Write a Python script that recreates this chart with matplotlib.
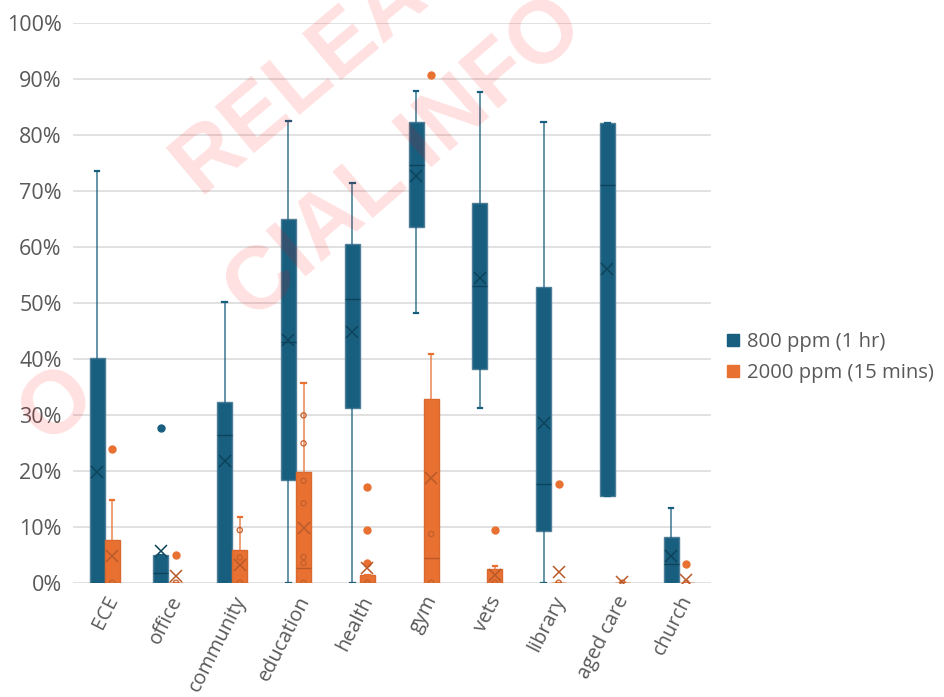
import matplotlib.pyplot as plt
import numpy as np
from matplotlib.lines import Line2D

categories = ['ECE', 'office', 'community', 'education', 'health',
              'gym', 'vets', 'library', 'aged care', 'church']

# 800 ppm (1 hr), values in %
hr_q1 = [0, 0, 0, 18.3, 31.3, 63.6, 38.1, 9.2, 15.4, 0]
hr_med = [0, 1.7, 26.4, 43.0, 50.7, 74.7, 53.0, 17.7, 71.1, 3.3]
hr_q3 = [40.2, 4.9, 32.3, 64.9, 60.6, 82.4, 67.9, 52.8, 82.1, 8.2]
hr_lo = [0, 0, 0, 0, 0, 48.1, 31.3, 0, 15.4, 0]
hr_hi = [73.5, 4.9, 50.2, 82.5, 71.4, 87.8, 87.7, 82.3, 82.1, 13.3]
hr_mean = [19.8, 5.6, 21.8, 43.3, 44.8, 72.7, 54.5, 28.6, 56.1, 4.8]
hr_out = [[], [27.6], [], [], [], [], [], [], [], []]

# 2000 ppm (15 mins), values in %
mins_q1 = [0, 0, 0, 0, 0, 0, 0, 0, 0, 0]
mins_med = [0, 0, 0, 2.6, 0, 4.4, 0, 0, 0, 0]
mins_q3 = [7.7, 0, 5.9, 19.8, 1.4, 32.9, 2.4, 0, 0, 0]
mins_lo = [0, 0, 0, 0, 0, 0, 0, 0, 0, 0]
mins_hi = [14.8, 0, 11.7, 35.7, 1.4, 40.9, 3.0, 0, 0, 0]
mins_mean = [4.8, 1.2, 3.2, 9.7, 2.6, 18.7, 1.4, 1.9, 0.2, 0.4]
mins_out = [[23.9], [5.0], [], [], [17.1, 9.4, 3.6], [90.7], [9.4], [17.7], [], [3.4]]
mins_pts = [[0], [0], [9.4, 4.5, 0], [29.9, 24.9, 18.2, 14.2, 4.6, 3.5, 0],
            [0], [8.7, 0], [0], [0], [0], [0]]

blue = '#175e7f'
orange = '#e87132'
grey = '#595959'

plt.rcParams['font.family'] = ['Open Sans', 'DejaVu Sans']

fig = plt.figure(figsize=(9.45, 6.97), dpi=100)
ax = fig.add_axes([0.077, 0.164, 0.675, 0.803])

x = np.arange(len(categories))
off = 0.118
w = 0.235


def stats(q1, med, q3, lo, hi, mean, out):
    return [dict(q1=a, med=b, q3=c, whislo=d, whishi=e, mean=f, fliers=g)
            for a, b, c, d, e, f, g in zip(q1, med, q3, lo, hi, mean, out)]


def draw(st, pos, col, edge, dark):
    ax.bxp(st, positions=pos, widths=w, patch_artist=True, showmeans=True,
           capwidths=0.07,
           boxprops=dict(facecolor=col, edgecolor=edge, linewidth=1),
           medianprops=dict(color=dark, linewidth=1),
           whiskerprops=dict(color=col, linewidth=1.1, alpha=0.85),
           capprops=dict(color=col, linewidth=1.6),
           meanprops=dict(marker='x', markeredgecolor=dark, markersize=8,
                          markeredgewidth=1.1),
           flierprops=dict(marker='o', markerfacecolor=col, markeredgecolor=col,
                           markersize=5))


draw(stats(hr_q1, hr_med, hr_q3, hr_lo, hr_hi, hr_mean, hr_out), x - off,
     blue, '#4f7f98', '#0e435c')
draw(stats(mins_q1, mins_med, mins_q3, mins_lo, mins_hi, mins_mean, mins_out), x + off,
     orange, '#d9692e', '#b9592a')

for i, pts in enumerate(mins_pts):
    ax.scatter([x[i] + off] * len(pts), pts, s=14, facecolors='none',
               edgecolors='#c45f2b', linewidths=0.9, zorder=4)

ax.set_xlim(-0.5, len(categories) - 0.5)
ax.set_ylim(0, 100)
ax.set_yticks(range(0, 101, 10))
ax.set_yticklabels([f'{v}%' for v in range(0, 101, 10)])
ax.set_xticks(x)
ax.set_xticklabels(categories, rotation=63, ha='right', rotation_mode='anchor')
ax.tick_params(axis='y', length=0, labelsize=15.5, labelcolor=grey, pad=8)
ax.tick_params(axis='x', length=0, labelsize=14.3, labelcolor=grey, pad=7)
ax.grid(axis='y', color='#d9d9d9', linewidth=1.1)
ax.set_axisbelow(True)
for spine in ax.spines.values():
    spine.set_visible(False)

handles = [Line2D([], [], marker='s', linestyle='none', color=blue, markersize=9),
           Line2D([], [], marker='s', linestyle='none', color=orange, markersize=9)]
fig.legend(handles, ['800 ppm (1 hr)', '2000 ppm (15 mins)'], loc='center left',
           bbox_to_anchor=(0.749, 0.487), frameon=False, fontsize=14.6,
           labelcolor=grey, handlelength=0.7, handletextpad=0.35, labelspacing=0.55)

# watermark fragments
wm = dict(color='red', alpha=0.12, fontsize=64, fontweight='bold',
          family='Liberation Sans', ha='center', va='center', rotation_mode='anchor')
fig.text(300 / 945, 1 - 80 / 697, 'RELEA', rotation=40, **wm)
fig.text(405 / 945, 1 - 160 / 697, 'CIAL INFO', rotation=41, **wm)
fig.text(58 / 945, 1 - 405 / 697, 'O', rotation=41, **wm)

fig.savefig('out.png', dpi=100)
